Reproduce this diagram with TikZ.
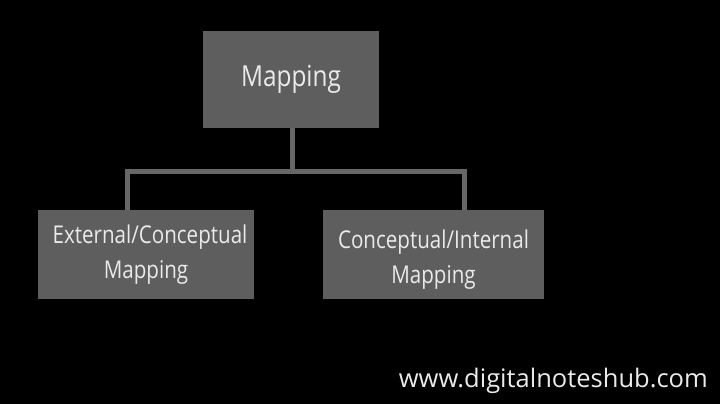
\documentclass[tikz,border=0pt]{standalone}
\usepackage{fontspec}
\setmainfont{Open Sans}
\newfontfamily\condfont[FakeStretch=0.84]{Open Sans}
\definecolor{boxgray}{HTML}{5E5E5E}
\definecolor{linegray}{HTML}{676767}
\definecolor{txt}{HTML}{EAEAEA}
\begin{document}
\begin{tikzpicture}[x=1pt,y=-1pt,
  box/.style={draw=none,fill=boxgray,inner sep=0pt,text=txt,align=center},
  conn/.style={draw=linegray,line width=5pt}]
\fill[black] (0,0) rectangle (720,404);
\useasboundingbox (0,0) rectangle (720,404);
\node[box,minimum width=176pt,minimum height=97pt,font=\condfont\fontsize{29}{34}\selectfont] (top) at (291,79.5) {Mapping};
\node[box,minimum width=216pt,minimum height=89pt,font=\condfont\fontsize{24.5}{35}\selectfont] (left) at (146,254.5) {\hspace*{8pt}External/Conceptual\\Mapping};
\node[box,minimum width=221pt,minimum height=89pt,font=\condfont\fontsize{24.5}{35}\selectfont] (right) at (433.5,254.5) {\rule{0pt}{28pt}Conceptual/Internal\\Mapping};
\coordinate (mid) at (292,171.5);
\draw[conn] (top.south -| mid) -- (mid);
\draw[conn] (left.north -| 127,0) |- (mid) -| (right.north -| 464,0);
\node[anchor=base east,text=txt,inner sep=0pt,font=\fontsize{25.5}{30}\selectfont] (url) at (708,387) {www.digitalnoteshub.com};
\end{tikzpicture}
\end{document}
